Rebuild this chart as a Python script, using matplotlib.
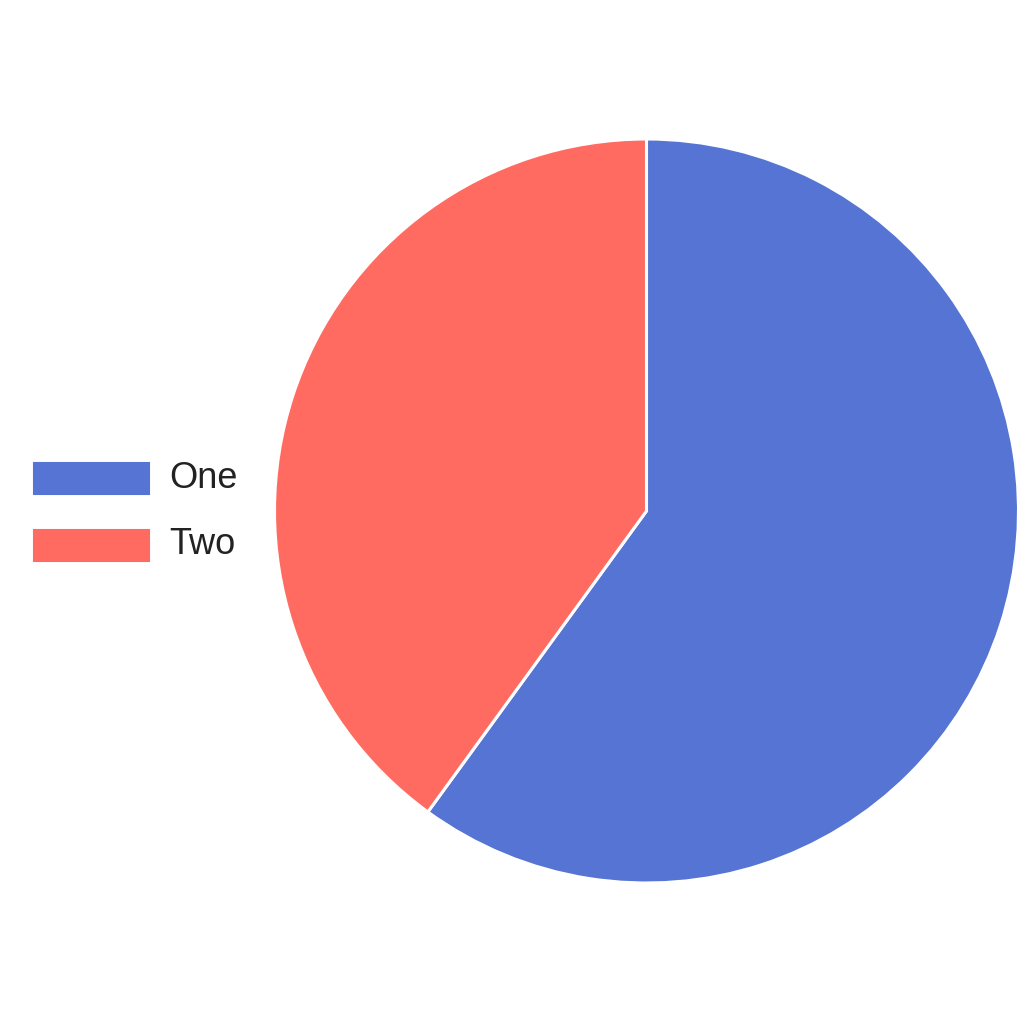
import matplotlib
matplotlib.use("Agg")
import matplotlib.pyplot as plt
from matplotlib.patches import Rectangle

labels = ["One", "Two"]
values = [60, 40]
colors = ["#5574D3", "#FF6B61"]

W = H = 1024
fig = plt.figure(figsize=(10.24, 10.24), dpi=100)
fig.patch.set_facecolor("white")

cx, cy, r = 646.5, 511, 372
ax = fig.add_axes([(cx - r) / W, (H - cy - r) / H, 2 * r / W, 2 * r / H])
ax.pie(values, colors=colors, startangle=90, counterclock=False, radius=1,
       wedgeprops=dict(edgecolor="white", linewidth=2.2))
ax.set_xlim(-1.0, 1.0)
ax.set_ylim(-1.0, 1.0)
ax.set_aspect("equal")
ax.axis("off")

# legend
y_centers = [478, 545]
for lab, col, yc in zip(labels, colors, y_centers):
    rect = Rectangle((34 / W, (H - yc - 15.5) / H), 115 / W, 31 / H,
                     transform=fig.transFigure, facecolor=col,
                     edgecolor=col, linewidth=1.5, alpha=1.0)
    fig.patches.append(rect)
    fig.text(169 / W, (H - yc) / H, lab, fontsize=26, family="Liberation Sans",
             color="#222222", va="center", ha="left")

fig.savefig("out.png", dpi=100, facecolor="white")
